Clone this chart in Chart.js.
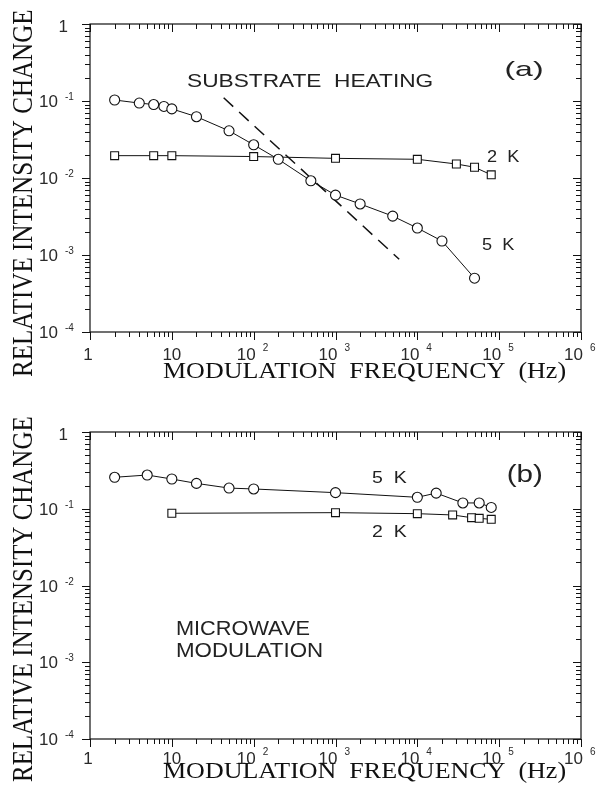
<!DOCTYPE html>
<html>
<head>
<meta charset="utf-8">
<script src="https://cdn.jsdelivr.net/npm/chart.js@4.4.1/dist/chart.umd.min.js"></script>
<style>
  body { margin: 0; background: #fff; }
  canvas { position: absolute; left: 0; }
</style>
</head>
<body>
<canvas id="heating" width="598" height="394" style="top:0"></canvas>
<canvas id="microwave" width="598" height="395" style="top:394px"></canvas>
<script>
// (a) substrate heating
const freqA5 = [2, 4, 6, 8, 10, 20, 50, 100, 200, 500, 1000, 2000, 5000, 10000, 20000, 50000];
const valA5 = [0.103, 0.094, 0.09, 0.085, 0.079, 0.0625, 0.041, 0.027, 0.0175, 0.0092, 0.006, 0.0046, 0.0032, 0.00224, 0.00152, 0.0005];
const freqA2 = [2, 6, 10, 100, 1000, 10000, 30000, 50000, 80000];
const valA2 = [0.0195, 0.0195, 0.0195, 0.019, 0.018, 0.0175, 0.0152, 0.0138, 0.011];
const heatFreq = [43, 6000];
const heatVal = [0.11, 0.00088];

// (b) microwave modulation
const freqB5 = [2, 5, 10, 20, 50, 100, 1000, 10000, 17000, 36000, 57000, 80000];
const valB5 = [0.257, 0.275, 0.244, 0.214, 0.186, 0.181, 0.162, 0.141, 0.16, 0.119, 0.119, 0.104];
const freqB2 = [10, 1000, 10000, 27000, 46000, 57000, 80000];
const valB2 = [0.0873, 0.0889, 0.0863, 0.083, 0.0765, 0.075, 0.0728];

// tick labels
const xTickValues = [1, 10, 100, 1e3, 1e4, 1e5, 1e6];
const xTickBase = ['1', '10', '10', '10', '10', '10', '10'];
const xTickExp = ['', '', '2', '3', '4', '5', '6'];
const yTickValues = [1e-4, 1e-3, 1e-2, 1e-1, 1];
const yTickBase = ['10', '10', '10', '10', '1'];
const yTickExp = ['-4', '-3', '-2', '-1', ''];

const INK = '#111';
const SANS = '"Liberation Sans", Arial, sans-serif';
const SERIF = '"Liberation Serif", "Times New Roman", serif';

const pts = (xs, ys) => xs.map((x, i) => ({ x: x, y: ys[i] }));

function logMarks(scale) {
  const marks = [];
  const lo = Math.round(Math.log10(scale.min));
  const hi = Math.round(Math.log10(scale.max));
  for (let e = lo; e < hi; e++) {
    for (let k = 1; k < 10; k++) marks.push({ v: k * Math.pow(10, e), major: k === 1 });
  }
  marks.push({ v: Math.pow(10, hi), major: true });
  return marks;
}

// text squeezed/stretched to a measured box, baseline given
function fitText(ctx, t, font, x0, x1, base) {
  ctx.font = font;
  ctx.textAlign = 'left';
  ctx.textBaseline = 'alphabetic';
  const m = ctx.measureText(t);
  const L = m.actualBoundingBoxLeft, R = m.actualBoundingBoxRight;
  const sx = (x1 - x0) / (L + R);
  ctx.save();
  ctx.translate(x0 + L * sx, base);
  ctx.scale(sx, 1);
  ctx.fillText(t, 0, 0);
  ctx.restore();
}

const frameTicks = {
  id: 'frameTicks',
  afterDraw(chart, args, o) {
    const { ctx, chartArea: a, scales: { x, y } } = chart;
    ctx.save();
    ctx.strokeStyle = INK;
    ctx.fillStyle = INK;
    ctx.lineWidth = 1.2;
    ctx.strokeRect(a.left, a.top, a.right - a.left, a.bottom - a.top);

    ctx.lineWidth = 1;
    ctx.beginPath();
    logMarks(x).forEach(m => {
      const px = Math.round(x.getPixelForValue(m.v)) + 0.5;
      const len = m.major ? 8 : 5;
      ctx.moveTo(px, a.bottom); ctx.lineTo(px, a.bottom + len);
      ctx.moveTo(px, a.top); ctx.lineTo(px, a.top + len);
    });
    logMarks(y).forEach(m => {
      const py = Math.round(y.getPixelForValue(m.v)) + 0.5;
      const len = m.major ? 8 : 5;
      ctx.moveTo(a.left - len, py); ctx.lineTo(a.left, py);
      ctx.moveTo(a.right - len, py); ctx.lineTo(a.right, py);
    });
    ctx.stroke();

    // tick labels
    ctx.fillStyle = '#2a2a2a';
    ctx.textBaseline = 'alphabetic';
    xTickValues.forEach((v, i) => {
      const px = x.getPixelForValue(v);
      const base = a.bottom + o.xLabelGap;
      ctx.font = '17px ' + SANS;
      if (!xTickExp[i]) {
        ctx.textAlign = 'center';
        ctx.fillText(xTickBase[i], xTickBase[i] === '1' ? px - 2 : px, base);
      } else {
        ctx.textAlign = 'right';
        ctx.fillText(xTickBase[i], px + 2, base);
        ctx.font = '10px ' + SANS;
        ctx.textAlign = 'left';
        ctx.fillText(xTickExp[i], px + 9, base - 9);
      }
    });
    yTickValues.forEach((v, i) => {
      const py = y.getPixelForValue(v);
      ctx.font = '17px ' + SANS;
      ctx.textAlign = 'right';
      if (!yTickExp[i]) {
        ctx.fillText(yTickBase[i], a.left - 22, py + 8);
      } else {
        ctx.fillText(yTickBase[i], a.left - 32, py + 6);
        ctx.font = '10px ' + SANS;
        ctx.textAlign = 'left';
        ctx.fillText(yTickExp[i], a.left - 25, py - 1);
      }
    });

    // annotations
    ctx.fillStyle = '#222';
    o.texts.forEach(t => fitText(ctx, t.t, t.size + 'px ' + SANS, t.x0, t.x1, t.base));

    // axis titles
    ctx.fillStyle = INK;
    const xt = o.xTitle;
    fitText(ctx, xt.t, xt.size + 'px ' + SERIF, xt.x0, xt.x1, xt.base);
    const yt = o.yTitle;
    ctx.save();
    ctx.translate(yt.base, (yt.y0 + yt.y1) / 2);
    ctx.rotate(-Math.PI / 2);
    const h = (yt.y1 - yt.y0) / 2;
    fitText(ctx, yt.t, yt.size + 'px ' + SERIF, -h, h, 0);
    ctx.restore();
    ctx.restore();
  }
};

function series(data, style) {
  return Object.assign({
    data: data,
    borderColor: INK,
    borderWidth: 1,
    tension: 0,
    pointRadius: 5,
    pointBackgroundColor: '#fff',
    pointBorderColor: INK,
    pointBorderWidth: 1.1
  }, style);
}

function logScales(bottomHeight) {
  return {
    x: {
      type: 'logarithmic', min: 1, max: 1e6,
      grid: { display: false, drawTicks: false },
      border: { display: false },
      ticks: { display: false, autoSkip: false },
      afterFit: s => { s.height = bottomHeight; }
    },
    y: {
      type: 'logarithmic', min: 1e-4, max: 1,
      grid: { display: false, drawTicks: false },
      border: { display: false },
      ticks: { display: false, autoSkip: false },
      afterFit: s => { s.width = 90; }
    }
  };
}

const heatingChart = new Chart(document.getElementById('heating'), {
  type: 'line',
  data: {
    datasets: [
      series(pts(freqA5, valA5), { label: '5 K', pointStyle: 'circle' }),
      series(pts(freqA2, valA2), { label: '2 K', pointStyle: 'rect', pointRadius: 5.6 }),
      series(pts(heatFreq, heatVal), { label: 'substrate heating', borderDash: [13, 8], borderWidth: 1.5, pointRadius: 0 })
    ]
  },
  options: {
    responsive: false,
    animation: false,
    devicePixelRatio: 1,
    layout: { padding: { top: 24, right: 17, left: 0, bottom: 0 } },
    scales: logScales(62),
    plugins: {
      legend: { display: false },
      tooltip: { enabled: false },
      frameTicks: {
        xLabelGap: 28,
        texts: [
          { t: 'SUBSTRATE  HEATING', x0: 187, x1: 432, base: 87, size: 18 },
          { t: '(a)', x0: 506, x1: 542, base: 76, size: 21 },
          { t: '2  K', x0: 487, x1: 520, base: 162, size: 17 },
          { t: '5  K', x0: 482, x1: 515, base: 250, size: 17 }
        ],
        xTitle: { t: 'MODULATION  FREQUENCY  (Hz)', x0: 163, x1: 565, base: 378, size: 24 },
        yTitle: { t: 'RELATIVE INTENSITY CHANGE', y0: 10, y1: 377, base: 32, size: 29 }
      }
    }
  },
  plugins: [frameTicks]
});

const microwaveChart = new Chart(document.getElementById('microwave'), {
  type: 'line',
  data: {
    datasets: [
      series(pts(freqB5, valB5), { label: '5 K', pointStyle: 'circle' }),
      series(pts(freqB2, valB2), { label: '2 K', pointStyle: 'rect', pointRadius: 5.6 })
    ]
  },
  options: {
    responsive: false,
    animation: false,
    devicePixelRatio: 1,
    layout: { padding: { top: 38, right: 17, left: 0, bottom: 0 } },
    scales: logScales(50),
    plugins: {
      legend: { display: false },
      tooltip: { enabled: false },
      frameTicks: {
        xLabelGap: 25,
        texts: [
          { t: '5  K', x0: 372, x1: 407, base: 89, size: 16 },
          { t: '2  K', x0: 372, x1: 407, base: 143, size: 16 },
          { t: '(b)', x0: 508, x1: 542, base: 88, size: 23 },
          { t: 'MICROWAVE', x0: 177, x1: 310, base: 241, size: 21 },
          { t: 'MODULATION', x0: 177, x1: 322, base: 263, size: 21 }
        ],
        xTitle: { t: 'MODULATION  FREQUENCY  (Hz)', x0: 163, x1: 565, base: 384, size: 24 },
        yTitle: { t: 'RELATIVE INTENSITY CHANGE', y0: 23, y1: 388, base: 32, size: 29 }
      }
    }
  },
  plugins: [frameTicks]
});
</script>
</body>
</html>
